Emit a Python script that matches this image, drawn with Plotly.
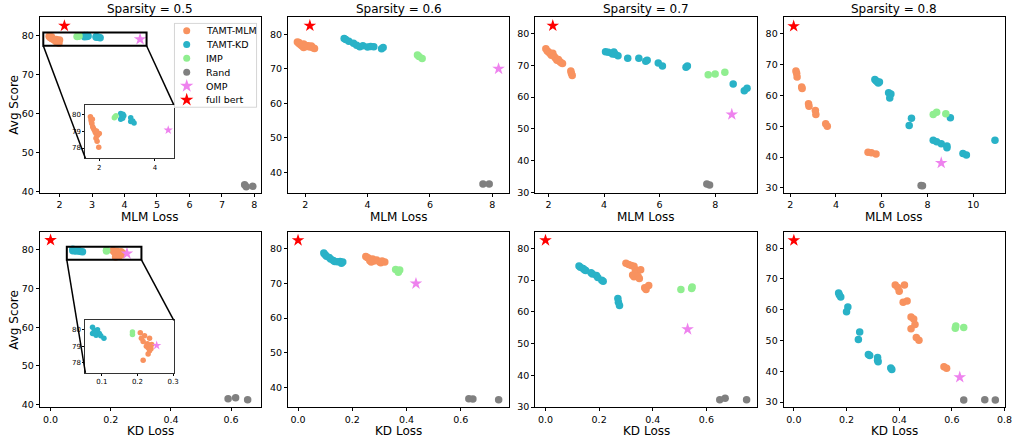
import plotly.graph_objects as go

# ---------------- data ----------------
SPARSITIES = [0.5, 0.6, 0.7, 0.8]
SERIES = ["TAMT-MLM", "TAMT-KD", "IMP", "Rand", "OMP", "full bert"]

# x = MLM loss, y = Avg score
TAMT_MLM_on_MLM = {
    0.5: [(1.68, 79.85), (1.70, 79.65), (1.72, 79.5), (1.73, 79.45), (1.76, 79.26), (1.79, 79.15),
          (1.82, 79.06), (1.85, 78.95), (1.88, 78.86), (1.94, 78.76), (2.0, 78.86), (1.88, 78.57),
          (1.92, 78.4), (1.98, 78.04), (1.75, 79.7), (1.9, 79.0)],
    0.6: [(1.75, 77.8), (1.8, 77.3), (1.85, 77.0), (1.9, 76.6), (1.95, 76.2), (2.0, 76.8), (2.05, 76.5),
          (2.1, 76.7), (2.15, 76.3), (2.2, 76.6), (2.25, 76.1), (2.3, 75.9), (1.95, 77.2), (1.8, 77.6)],
    0.7: [(1.9, 75.2), (1.95, 74.5), (2.0, 74.2), (2.05, 73.7), (2.1, 73.2), (2.15, 73.8), (2.2, 72.8),
          (2.25, 72.2), (2.3, 71.6), (2.35, 71.8), (2.4, 71.2), (2.45, 70.8), (2.5, 70.6), (2.8, 68.2),
          (2.82, 67.5), (2.85, 66.8)],
    0.8: [(2.25, 68.0), (2.28, 67.2), (2.3, 66.0), (2.5, 62.8), (2.52, 62.3), (2.8, 57.3), (2.82, 56.5),
          (3.1, 55.1), (3.12, 53.8), (3.55, 50.8), (3.62, 50.0), (5.4, 41.6), (5.55, 41.4), (5.75, 41.0)],
}
TAMT_KD_on_MLM = {
    0.5: [(2.77, 80.04), (2.81, 79.85), (2.77, 79.7), (2.84, 79.75), (2.88, 79.9), (2.85, 80.0),
          (3.13, 79.79), (3.13, 79.56), (3.2, 79.6), (3.25, 79.47)],
    0.6: [(3.25, 78.8), (3.3, 78.5), (3.4, 78.0), (3.55, 77.4), (3.65, 76.8), (3.75, 76.4), (3.85, 76.7),
          (4.0, 76.3), (4.1, 76.5), (4.2, 76.4), (4.45, 75.8), (4.5, 76.2)],
    0.7: [(4.05, 74.3), (4.15, 74.1), (4.3, 73.6), (4.35, 74.2), (4.4, 73.5), (4.5, 73.0), (4.85, 72.2),
          (5.25, 72.2), (5.5, 71.3), (5.55, 71.6), (5.95, 70.7), (6.1, 69.8), (6.95, 69.4), (7.0, 69.8),
          (8.65, 64.1), (9.05, 62.0), (9.15, 62.8)],
    0.8: [(5.7, 65.2), (5.75, 64.8), (5.8, 64.5), (5.85, 64.1), (5.9, 64.4), (6.3, 60.9), (6.4, 60.5),
          (6.35, 59.2), (7.3, 52.6), (7.2, 50.3), (8.25, 45.5), (8.4, 45.0), (8.6, 44.3), (8.85, 43.6),
          (8.85, 43.0), (9.0, 52.8), (9.55, 41.2), (9.7, 40.7), (10.95, 45.5)],
}
IMP_on_MLM = {
    0.5: [(2.54, 79.79), (2.57, 79.85), (2.6, 79.9)],
    0.6: [(5.6, 74.0), (5.65, 73.6), (5.75, 73.0)],
    0.7: [(7.75, 67.0), (8.0, 67.3), (8.35, 67.8)],
    0.8: [(8.25, 53.8), (8.4, 54.6), (8.8, 54.1)],
}
RAND_on_MLM = {
    0.5: [(7.7, 41.8), (7.75, 41.3), (7.95, 41.4)],
    0.6: [(7.7, 36.6), (7.9, 36.6)],
    0.7: [(7.7, 32.6), (7.8, 32.3)],
    0.8: [(7.72, 30.8), (7.78, 30.7)],
}
OMP_on_MLM = {0.5: [(4.48, 79.06)], 0.6: [(8.2, 70.0)], 0.7: [(8.6, 54.5)], 0.8: [(8.6, 38.1)]}
FULL_BERT_on_MLM = [(2.15, 82.5)]

# x = KD loss, y = Avg score
TAMT_MLM_on_KD = {
    0.5: [(0.211, 79.47), (0.22, 79.62), (0.234, 79.47), (0.216, 79.28), (0.225, 79.0), (0.23, 78.9),
          (0.234, 78.72), (0.23, 78.53), (0.216, 78.15), (0.24, 79.1), (0.238, 78.85), (0.228, 79.15),
          (0.208, 79.8)],
    0.6: [(0.25, 77.8), (0.26, 77.3), (0.265, 76.6), (0.275, 77.1), (0.28, 76.5), (0.29, 76.8),
          (0.3, 76.3), (0.305, 76.0), (0.31, 76.5), (0.32, 76.2), (0.27, 76.2), (0.255, 77.5)],
    0.7: [(0.30, 75.3), (0.31, 74.9), (0.32, 74.6), (0.33, 74.3), (0.335, 73.2), (0.34, 72.6),
          (0.325, 71.6), (0.33, 71.0), (0.345, 71.2), (0.35, 70.5), (0.355, 73.2), (0.37, 67.6),
          (0.375, 67.0), (0.385, 68.3)],
    0.8: [(0.385, 68.0), (0.395, 67.2), (0.42, 68.0), (0.40, 66.0), (0.415, 62.4), (0.43, 62.8),
          (0.445, 57.6), (0.455, 57.0), (0.445, 53.8), (0.46, 55.2), (0.465, 51.0), (0.475, 50.1),
          (0.57, 41.5), (0.58, 41.0)],
}
TAMT_KD_on_KD = {
    0.5: [(0.074, 80.13), (0.079, 79.94), (0.074, 79.76), (0.084, 79.66), (0.093, 79.76), (0.097, 79.62),
          (0.106, 79.47), (0.088, 79.98), (0.08, 79.8)],
    0.6: [(0.095, 78.8), (0.1, 78.3), (0.105, 77.9), (0.115, 77.5), (0.12, 77.1), (0.13, 76.7),
          (0.135, 76.4), (0.145, 76.3), (0.155, 76.4), (0.16, 75.9), (0.165, 76.2)],
    0.7: [(0.125, 74.4), (0.13, 74.0), (0.14, 73.6), (0.145, 73.2), (0.15, 73.0), (0.17, 72.3),
          (0.175, 71.9), (0.19, 71.4), (0.195, 70.8), (0.21, 69.9), (0.215, 69.6), (0.27, 64.2),
          (0.272, 63.0), (0.276, 62.0)],
    0.8: [(0.17, 65.4), (0.173, 64.8), (0.178, 64.1), (0.205, 60.9), (0.2, 59.3), (0.25, 52.8),
          (0.245, 50.3), (0.283, 45.5), (0.288, 45.1), (0.318, 44.5), (0.318, 43.6), (0.32, 43.1),
          (0.368, 41.1), (0.372, 40.6)],
}
IMP_on_KD = {
    0.5: [(0.186, 79.85), (0.186, 79.7)],
    0.6: [(0.36, 74.1), (0.37, 73.3), (0.375, 73.9)],
    0.7: [(0.505, 67.0), (0.545, 67.3), (0.547, 67.8)],
    0.8: [(0.613, 54.0), (0.615, 54.7), (0.645, 54.2)],
}
RAND_on_KD = {
    0.5: [(0.59, 41.5), (0.615, 41.8), (0.655, 41.3)],
    0.6: [(0.63, 36.7), (0.645, 36.6), (0.74, 36.4)],
    0.7: [(0.65, 32.3), (0.67, 32.8), (0.75, 32.3)],
    0.8: [(0.645, 30.7), (0.725, 30.8), (0.765, 30.7)],
}
OMP_on_KD = {0.5: [(0.254, 79.04)], 0.6: [(0.435, 70.0)], 0.7: [(0.53, 54.5)], 0.8: [(0.63, 38.1)]}
FULL_BERT_on_KD = [(0.0, 82.5)]

# axis ranges / ticks
MLM_XRANGE = [[1.39, 8.21], [1.45, 8.55], [1.52, 9.5], [1.71, 11.39]]
MLM_YRANGE = [[39.75, 84.8], [34.07, 85.07], [29.8, 85.3], [28.4, 85.56]]
MLM_XTICKS = [[2, 3, 4, 5, 6, 7, 8], [2, 4, 6, 8], [2, 4, 6, 8], [2, 4, 6, 8, 10]]
KD_XRANGE = [[-0.036, 0.70], [-0.037, 0.78], [-0.038, 0.788], [-0.039, 0.802]]
KD_YRANGE = [[39.3, 84.5], [34.2, 84.8], [29.9, 85.0], [28.3, 85.1]]
KD_XTICKS = [[0.0, 0.2, 0.4, 0.6], [0.0, 0.2, 0.4, 0.6], [0.0, 0.2, 0.4, 0.6], [0.0, 0.2, 0.4, 0.6, 0.8]]
Y_TICKS = [[40, 50, 60, 70, 80], [40, 50, 60, 70, 80], [30, 40, 50, 60, 70, 80], [30, 40, 50, 60, 70, 80]]
INSET_MLM_XRANGE = [1.5, 4.68]
INSET_KD_XRANGE = [0.054, 0.302]
INSET_YRANGE = [77.4, 80.55]
INSET_MLM_XTICKS = [2, 4]
INSET_KD_XTICKS = [0.1, 0.2, 0.3]
INSET_YTICKS = [78, 79, 80]

# ---------------- styling ----------------
COLORS = {"TAMT-MLM": "#f8925f", "TAMT-KD": "#29b2c7", "IMP": "#90ee90", "Rand": "#808080",
          "OMP": "#ee82ee", "full bert": "#ff0000"}
FONT = "DejaVu Sans"
W, H = 1021, 446
X_PX = [(40, 263), (290, 513), (539, 762), (789, 1012)]
TOP_PX = (17, 195)
BOT_PX = (235, 412)
INSET_TOP_PX = ((86, 175), (106, 160))
INSET_BOT_PX = ((86, 175), (324, 377))
LEGEND_PX = ((175, 259), (23, 109))
DOT, STAR = 7.5, 9.5


def xdom(px):
    return [px[0] / W, px[1] / W]


def ydom(py):
    return [1 - py[1] / H, 1 - py[0] / H]


fig = go.Figure()


def add_series(xa, ya, groups, dot=DOT, star=STAR):
    for name, pts in groups:
        if not pts:
            continue
        is_star = name in ("OMP", "full bert")
        fig.add_trace(go.Scatter(
            x=[p[0] for p in pts], y=[p[1] for p in pts], mode="markers", name=name,
            xaxis=xa, yaxis=ya, showlegend=False,
            marker=dict(color=COLORS[name], size=star if is_star else dot,
                        symbol="star" if is_star else "circle", line=dict(width=0)),
            hoverinfo="x+y+name"))


def axis_common(**kw):
    d = dict(showline=True, mirror=True, linecolor="black", linewidth=1, showgrid=False,
             zeroline=False, ticks="outside", ticklen=3, tickwidth=1, tickcolor="black",
             tickfont=dict(family=FONT, size=9.5, color="black"), fixedrange=True)
    d.update(kw)
    return d


layout_axes = {}
annotations = []
title_font = dict(family=FONT, size=12, color="black")
for i, s in enumerate(SPARSITIES):
    # top row (MLM loss)
    n = i + 1
    xa, ya = f"x{n if n > 1 else ''}", f"y{n if n > 1 else ''}"
    add_series(xa, ya, [("TAMT-MLM", TAMT_MLM_on_MLM[s]), ("TAMT-KD", TAMT_KD_on_MLM[s]),
                        ("IMP", IMP_on_MLM[s]), ("Rand", RAND_on_MLM[s]), ("OMP", OMP_on_MLM[s]),
                        ("full bert", FULL_BERT_on_MLM)])
    layout_axes[f"xaxis{n if n > 1 else ''}"] = axis_common(
        domain=xdom(X_PX[i]), anchor=ya, range=MLM_XRANGE[i], tickvals=MLM_XTICKS[i])
    layout_axes[f"yaxis{n if n > 1 else ''}"] = axis_common(
        domain=ydom(TOP_PX), anchor=xa, range=MLM_YRANGE[i], tickvals=Y_TICKS[i])
    # bottom row (KD loss)
    n = i + 5
    xa, ya = f"x{n}", f"y{n}"
    add_series(xa, ya, [("TAMT-MLM", TAMT_MLM_on_KD[s]), ("TAMT-KD", TAMT_KD_on_KD[s]),
                        ("IMP", IMP_on_KD[s]), ("Rand", RAND_on_KD[s]), ("OMP", OMP_on_KD[s]),
                        ("full bert", FULL_BERT_on_KD)])
    layout_axes[f"xaxis{n}"] = axis_common(
        domain=xdom(X_PX[i]), anchor=ya, range=KD_XRANGE[i], tickvals=KD_XTICKS[i], tickformat=".1f")
    layout_axes[f"yaxis{n}"] = axis_common(
        domain=ydom(BOT_PX), anchor=xa, range=KD_YRANGE[i], tickvals=Y_TICKS[i])

    xc = (X_PX[i][0] + X_PX[i][1]) / 2 / W
    annotations.append(dict(text=f"Sparsity = {s}", x=xc, y=1 - 9 / H, xref="paper", yref="paper",
                            showarrow=False, xanchor="center", yanchor="middle", font=title_font))
    annotations.append(dict(text="MLM Loss", x=xc, y=1 - 219.5 / H, xref="paper", yref="paper",
                            showarrow=False, xanchor="center", yanchor="middle", font=title_font))
    annotations.append(dict(text="KD Loss", x=xc, y=1 - 436 / H, xref="paper", yref="paper",
                            showarrow=False, xanchor="center", yanchor="middle", font=title_font))

for py in (TOP_PX, BOT_PX):
    annotations.append(dict(text="Avg Score", x=14 / W, y=1 - (py[0] + py[1]) / 2 / H, xref="paper",
                            yref="paper", showarrow=False, textangle=-90, xanchor="center",
                            yanchor="middle", font=title_font))

# insets (zoom on sparsity 0.5 panels)
s = 0.5
add_series("x9", "y9", [("TAMT-MLM", TAMT_MLM_on_MLM[s]), ("TAMT-KD", TAMT_KD_on_MLM[s]),
                        ("IMP", IMP_on_MLM[s]), ("OMP", OMP_on_MLM[s])], dot=5.5, star=7)
add_series("x10", "y10", [("TAMT-MLM", TAMT_MLM_on_KD[s]), ("TAMT-KD", TAMT_KD_on_KD[s]),
                          ("IMP", IMP_on_KD[s]), ("OMP", OMP_on_KD[s])], dot=5.5, star=7)
inset_tick = dict(family=FONT, size=7, color="black")
inset_style = dict(tickfont=inset_tick, ticklen=2, linecolor="#333333", linewidth=1.3)
layout_axes["xaxis9"] = axis_common(domain=xdom(INSET_TOP_PX[0]), anchor="y9", range=INSET_MLM_XRANGE,
                                    tickvals=INSET_MLM_XTICKS, **inset_style)
layout_axes["yaxis9"] = axis_common(domain=ydom(INSET_TOP_PX[1]), anchor="x9", range=INSET_YRANGE,
                                    tickvals=INSET_YTICKS, **inset_style)
layout_axes["xaxis10"] = axis_common(domain=xdom(INSET_BOT_PX[0]), anchor="y10", range=INSET_KD_XRANGE,
                                     tickvals=INSET_KD_XTICKS, tickformat=".1f", **inset_style)
layout_axes["yaxis10"] = axis_common(domain=ydom(INSET_BOT_PX[1]), anchor="x10", range=INSET_YRANGE,
                                     tickvals=INSET_YTICKS, **inset_style)

# legend drawn in its own small (pixel-unit) axis
lx, ly = LEGEND_PX
layout_axes["xaxis11"] = dict(domain=xdom(lx), anchor="y11", range=[lx[0], lx[1]], visible=False,
                              fixedrange=True)
layout_axes["yaxis11"] = dict(domain=ydom(ly), anchor="x11", range=[ly[1], ly[0]], visible=False,
                              fixedrange=True)
row_h = (ly[1] - ly[0] - 2) / len(SERIES)
for k, name in enumerate(SERIES):
    yk = ly[0] + 1 + row_h * (k + 0.5)
    is_star = name in ("OMP", "full bert")
    fig.add_trace(go.Scatter(x=[lx[0] + 13], y=[yk], mode="markers", xaxis="x11", yaxis="y11",
                             showlegend=False, hoverinfo="skip",
                             marker=dict(color=COLORS[name], size=10 if is_star else 7,
                                         symbol="star" if is_star else "circle", line=dict(width=0))))
    annotations.append(dict(text=name, x=lx[0] + 30, y=yk, xref="x11", yref="y11", showarrow=False,
                            xanchor="left", yanchor="middle",
                            font=dict(family=FONT, size=9.5, color="black")))


def to_paper(xv, yv, xr, yr, xd, yd):
    px = xd[0] + (xv - xr[0]) / (xr[1] - xr[0]) * (xd[1] - xd[0])
    py = yd[0] + (yv - yr[0]) / (yr[1] - yr[0]) * (yd[1] - yd[0])
    return px, py


shapes = [dict(type="rect", xref="x11", yref="y11", x0=lx[0] + 0.5, x1=lx[1] - 0.5, y0=ly[0] + 0.5,
               y1=ly[1] - 0.5, line=dict(color="#cccccc", width=1), fillcolor="white", layer="below")]
for (xref, yref, main_xr, main_yr, main_xd, main_yd, in_xr, in_px) in [
    ("x", "y", MLM_XRANGE[0], MLM_YRANGE[0], xdom(X_PX[0]), ydom(TOP_PX), INSET_MLM_XRANGE, INSET_TOP_PX),
    ("x5", "y5", KD_XRANGE[0], KD_YRANGE[0], xdom(X_PX[0]), ydom(BOT_PX), INSET_KD_XRANGE, INSET_BOT_PX),
]:
    shapes.append(dict(type="rect", xref=xref, yref=yref, x0=in_xr[0], x1=in_xr[1],
                       y0=INSET_YRANGE[0], y1=INSET_YRANGE[1] + 0.25,
                       line=dict(color="black", width=2), layer="above"))
    ixd, iyd = xdom(in_px[0]), ydom(in_px[1])
    bl = to_paper(in_xr[0], INSET_YRANGE[0], main_xr, main_yr, main_xd, main_yd)
    br = to_paper(in_xr[1], INSET_YRANGE[0], main_xr, main_yr, main_xd, main_yd)
    shapes.append(dict(type="line", xref="paper", yref="paper", x0=bl[0], y0=bl[1], x1=ixd[0], y1=iyd[0],
                       line=dict(color="black", width=1.5)))
    shapes.append(dict(type="line", xref="paper", yref="paper", x0=br[0], y0=br[1], x1=ixd[1], y1=iyd[1],
                       line=dict(color="black", width=1.5)))

fig.update_layout(
    width=W, height=H, margin=dict(l=0, r=0, t=0, b=0),
    paper_bgcolor="white", plot_bgcolor="white",
    font=dict(family=FONT, size=10, color="black"),
    shapes=shapes, annotations=annotations, showlegend=False,
    **layout_axes,
)

fig.write_html("out.html", config={"displayModeBar": False},
               post_script="document.body.style.margin='0';document.body.style.overflow='hidden';")
